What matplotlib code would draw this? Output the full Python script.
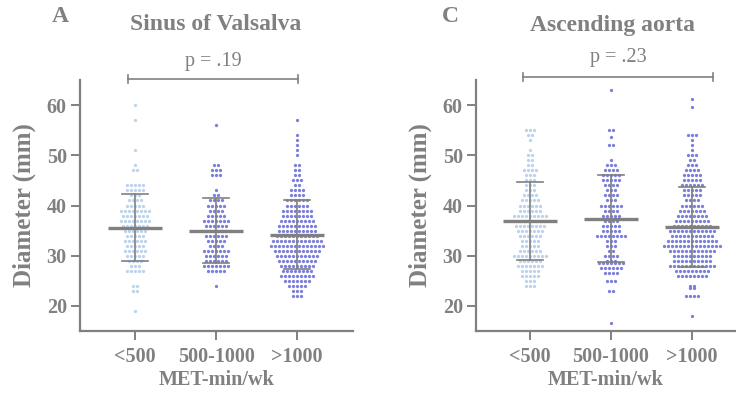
import matplotlib
matplotlib.use("Agg")
import matplotlib.pyplot as plt
import numpy as np

plt.rcParams['font.family'] = ['Liberation Serif', 'DejaVu Serif']

GRAY = "#808080"
LIGHT = "#bcd3ee"
BLUE = "#7b7fdc"

categories = ["<500", "500-1000", ">1000"]

# Sinus of Valsalva: diameter values (mm) and how many dots sit at each
sv_lo_vals = [60, 57, 51, 48, 47, 44, 43, 42, 41, 40, 39, 38, 37, 36, 35, 34, 33, 32, 31, 30, 29, 28, 27, 24, 23, 19]
sv_lo_cnt = [1, 1, 1, 1, 2, 5, 5, 3, 4, 5, 8, 7, 8, 7, 6, 5, 6, 5, 6, 5, 4, 3, 5, 2, 2, 1]
sv_mid_vals = [56, 48, 47, 46, 43, 42, 41, 40, 39, 38, 37, 36, 35, 34, 33, 32, 31, 30, 29, 28, 27, 24]
sv_mid_cnt = [1, 2, 3, 3, 1, 2, 4, 5, 4, 5, 7, 6, 8, 6, 5, 4, 7, 6, 6, 7, 5, 1]
sv_hi_vals = [57, 54, 53, 52, 51, 50, 48, 47, 46, 45, 44, 43, 42, 41, 40, 39, 38, 37, 36, 35, 34, 33, 32, 31,
              30, 29, 28, 27, 26, 25, 24, 23, 22]
sv_hi_cnt = [1, 1, 1, 1, 1, 1, 2, 2, 2, 3, 2, 4, 4, 6, 6, 8, 8, 9, 10, 10, 11, 13, 14, 12,
             11, 10, 9, 8, 9, 7, 5, 3, 3]

# Ascending aorta
aa_lo_vals = [55, 54, 53, 51, 50, 49, 48, 47, 46, 45, 44, 43, 42, 41, 40, 39, 38, 37, 36, 35, 34, 33, 32, 31,
              30, 29, 28, 27, 26, 25, 24]
aa_lo_cnt = [3, 2, 1, 1, 2, 2, 2, 4, 3, 3, 3, 3, 4, 5, 6, 6, 9, 8, 8, 7, 6, 5, 5, 6,
             9, 6, 7, 5, 5, 3, 3]
aa_mid_vals = [63, 55, 53.7, 52, 49, 48, 47, 46, 45, 44, 43, 42, 41, 40, 39, 38, 37, 36, 35, 34, 33, 32, 31,
               30, 29, 28.5, 27.5, 26.5, 25, 23, 16.6]
aa_mid_cnt = [1, 2, 1, 2, 1, 3, 4, 5, 5, 4, 3, 4, 3, 6, 4, 5, 4, 5, 5, 8, 3, 3, 2,
              4, 3, 7, 6, 4, 3, 2, 1]
aa_hi_vals = [61.3, 59.7, 54, 53, 52, 51, 50, 49, 48, 47, 46, 45, 44, 43, 42, 41, 40, 39, 38, 37, 36, 35, 34,
              33, 32, 31, 30, 29, 28, 27, 26, 24, 23.5, 22, 18]
aa_hi_cnt = [1, 1, 3, 1, 1, 1, 3, 2, 3, 4, 5, 5, 6, 5, 5, 4, 6, 7, 8, 9, 10, 12, 11,
             13, 15, 12, 10, 10, 12, 9, 8, 2, 2, 4, 1]

# mean and SD as shown by the error bars
sv_mean = [35.6, 35.0, 34.2]
sv_sd = [6.6, 6.4, 6.8]
aa_mean = [36.9, 37.4, 35.7]
aa_sd = [7.8, 8.6, 8.0]

panels = [
    dict(letter="A", title="Sinus of Valsalva", p="p = .19",
         groups=[(sv_lo_vals, sv_lo_cnt), (sv_mid_vals, sv_mid_cnt), (sv_hi_vals, sv_hi_cnt)],
         mean=sv_mean, sd=sv_sd),
    dict(letter="C", title="Ascending aorta", p="p = .23",
         groups=[(aa_lo_vals, aa_lo_cnt), (aa_mid_vals, aa_mid_cnt), (aa_hi_vals, aa_hi_cnt)],
         mean=aa_mean, sd=aa_sd),
]

W, H = 736, 398
fig = plt.figure(figsize=(W / 100, H / 100), dpi=100)

# axes boxes in pixels: left, right, bottom, top ; xlim
boxes = [(80, 353, 331, 80, (-0.68, 2.69)),
         (476, 736, 331, 80, (-0.667, 2.543))]
brackets = [(-0.087, 2.01, 65.2, 0.96, 68.6), (-0.087, 2.26, 65.6, 1.09, 69.4)]
title_x = [(60, 216), (450, 612)]

dx = 4.0 / 81
colors = [LIGHT, BLUE, BLUE]

for k, pan in enumerate(panels):
    l, r, b, t, xl = boxes[k]
    ax = fig.add_axes([l / W, 1 - b / H, (r - l) / W, (b - t) / H])
    ax.set_xlim(*xl)
    ax.set_ylim(15, 65)

    for i, (vals, cnt) in enumerate(pan["groups"]):
        xs, ys = [], []
        for v, n in zip(vals, cnt):
            off = (np.arange(n) - (n - 1) / 2.0) * dx
            xs.extend(i + off)
            ys.extend([v] * n)
        ax.scatter(xs, ys, s=5.5, color=colors[i], linewidths=0, zorder=2)

        m = pan["mean"][i]
        s = pan["sd"][i]
        ax.plot([i - 0.33, i + 0.33], [m, m], color=GRAY, lw=2.4, zorder=3, solid_capstyle="butt")
        ax.plot([i, i], [m - s, m + s], color=GRAY, lw=1.2, zorder=3)
        ax.plot([i - 0.165, i + 0.165], [m + s, m + s], color=GRAY, lw=1.2, zorder=3)
        ax.plot([i - 0.165, i + 0.165], [m - s, m - s], color=GRAY, lw=1.2, zorder=3)

    for side in ["top", "right"]:
        ax.spines[side].set_visible(False)
    for side in ["left", "bottom"]:
        ax.spines[side].set_color(GRAY)
        ax.spines[side].set_linewidth(1.6)
    ax.set_xticks(range(3))
    ax.set_xticklabels(categories)
    ax.set_yticks([20, 30, 40, 50, 60])
    ax.tick_params(colors=GRAY, width=1.4, length=6.5, labelsize=14.5, pad=3)
    for lab in ax.get_xticklabels() + ax.get_yticklabels():
        lab.set_fontweight("bold")
    ax.tick_params(axis="x", pad=5)
    ax.set_xlabel("MET-min/wk", fontsize=14.5, fontweight="bold", color=GRAY, labelpad=2)
    ax.set_ylabel("Diameter (mm)", fontsize=18, fontweight="bold", color=GRAY, labelpad=8)

    x0, x1, yb, xp, yp = brackets[k]
    ax.plot([x0, x1], [yb, yb], color=GRAY, lw=1.2, clip_on=False)
    ax.plot([x0, x0], [yb - 0.8, yb + 0.8], color=GRAY, lw=1.2, clip_on=False)
    ax.plot([x1, x1], [yb - 0.8, yb + 0.8], color=GRAY, lw=1.2, clip_on=False)
    ax.text(xp, yp, pan["p"], ha="center", va="center", fontsize=14.5, color=GRAY, clip_on=False)

    lx, tx = title_x[k]
    fig.text(lx / W, 1 - 17 / H, pan["letter"], ha="center", va="center",
             fontsize=17, fontweight="bold", color=GRAY)
    fig.text(tx / W, 1 - 25 / H, pan["title"], ha="center", va="center",
             fontsize=17, fontweight="bold", color=GRAY)

fig.savefig("out.png", dpi=100)
